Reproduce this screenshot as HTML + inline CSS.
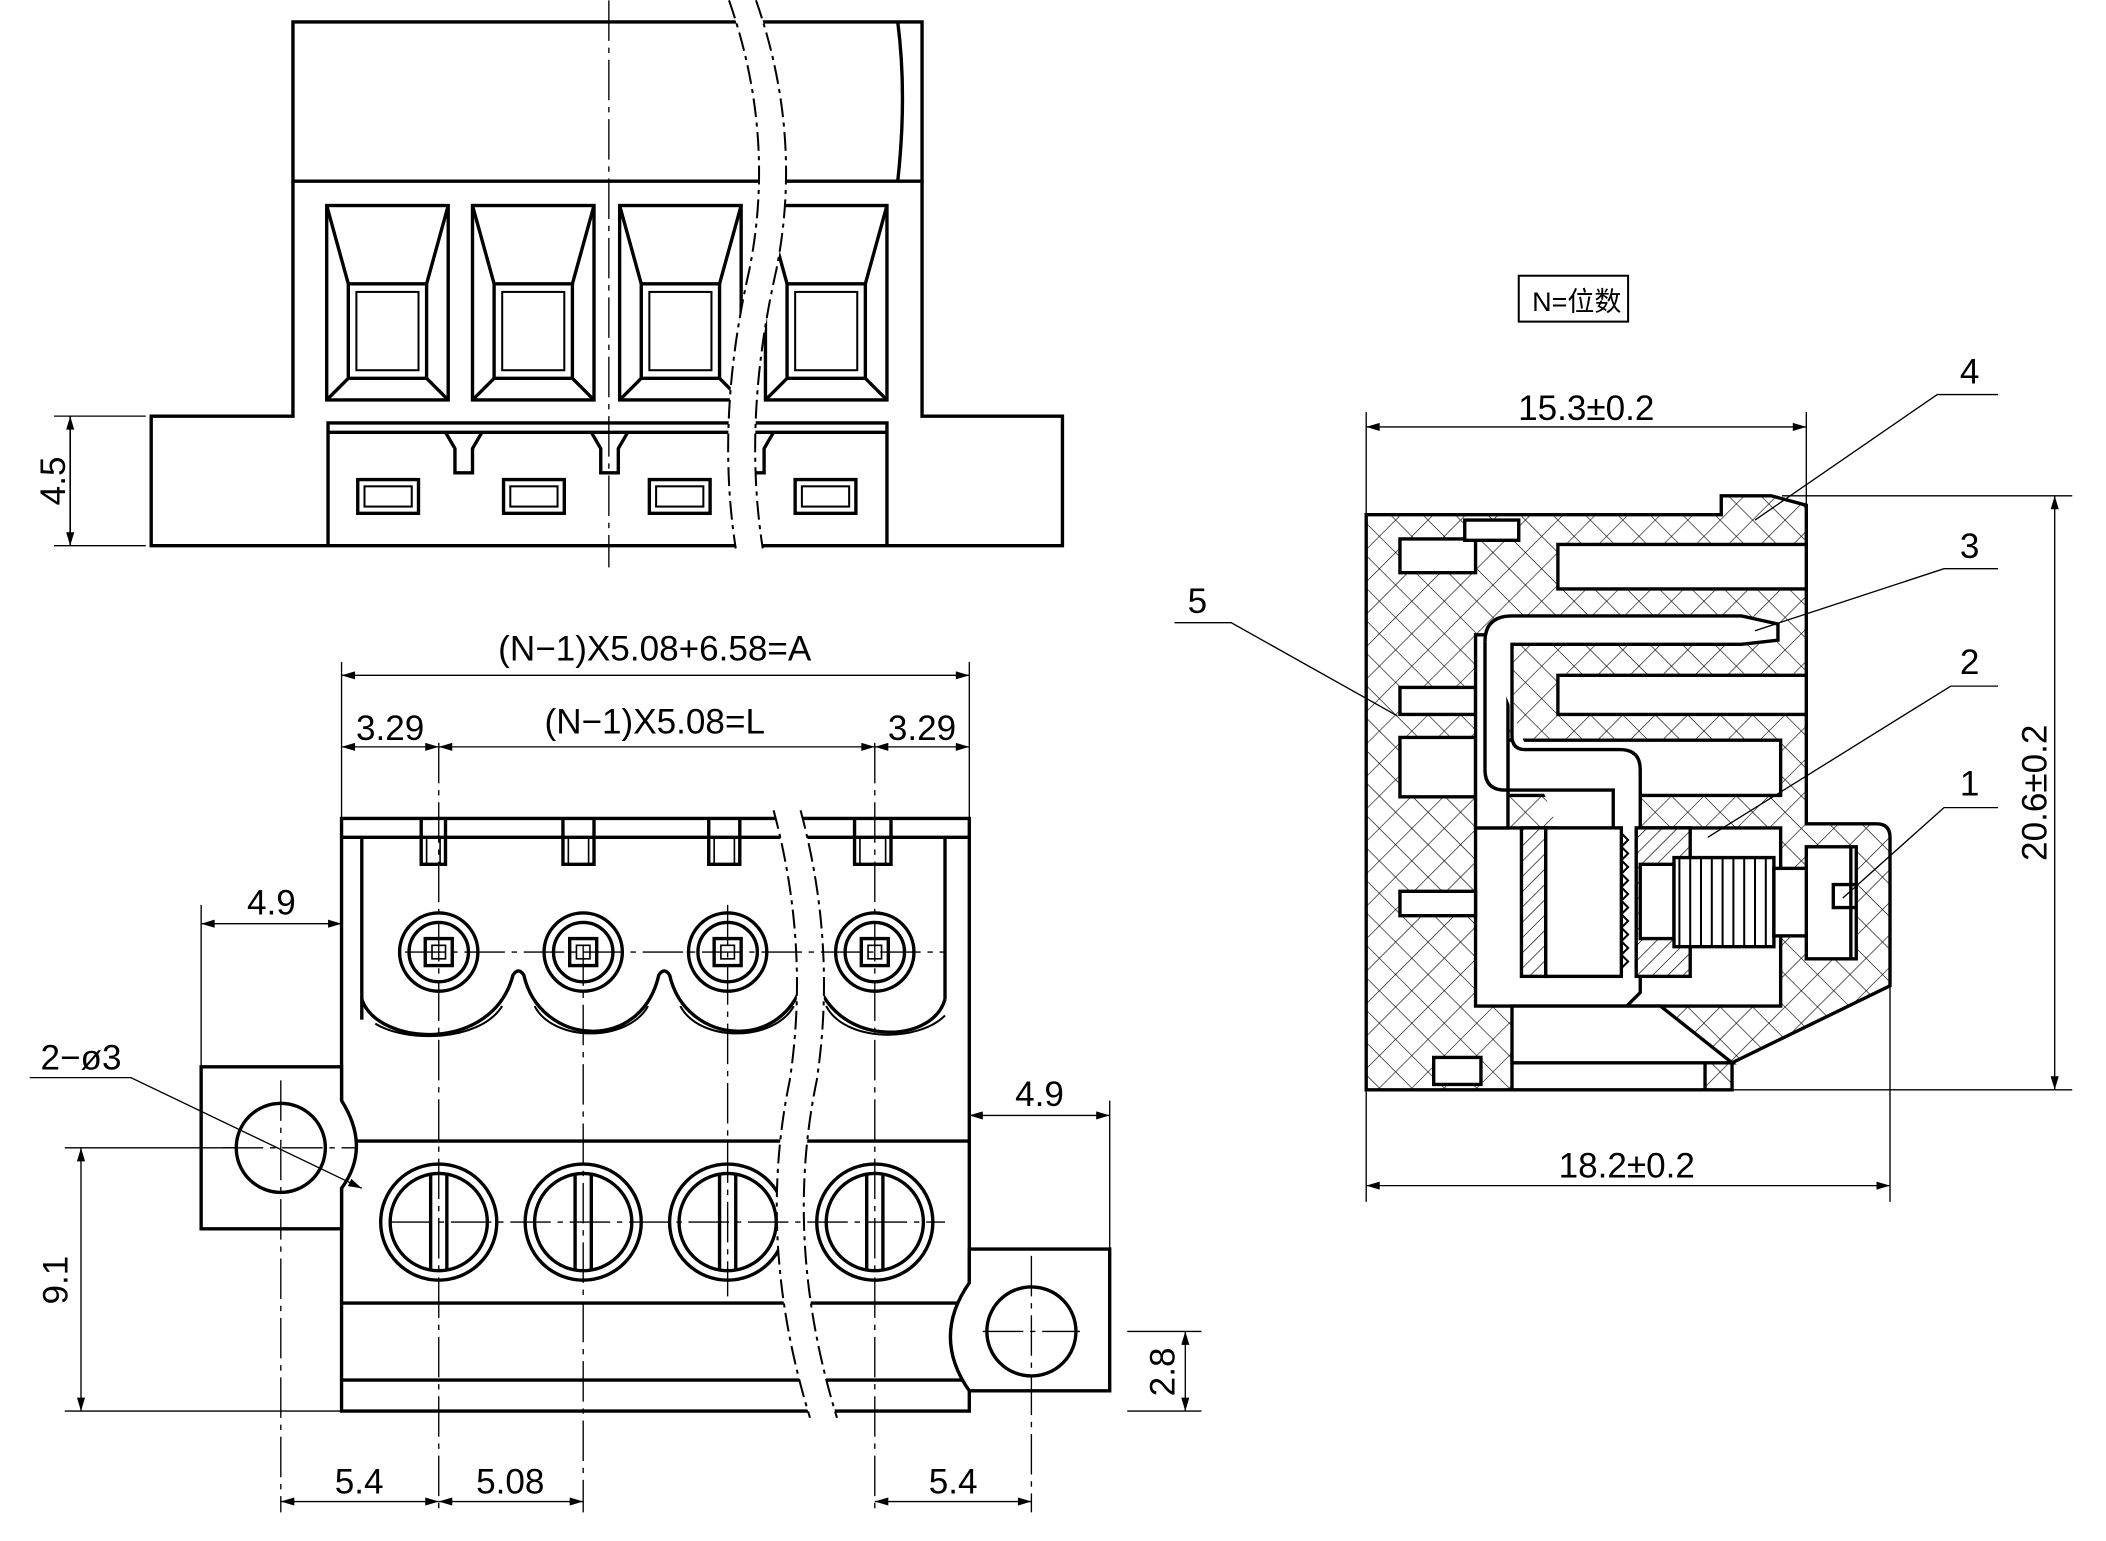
<!DOCTYPE html>
<html><head><meta charset="utf-8"><style>
html,body{margin:0;padding:0;background:#fff}
svg{display:block}
text{font-family:"Liberation Sans","Noto Sans CJK SC",sans-serif;fill:#000}
</style></head><body>
<svg width="2106" height="1541" viewBox="0 0 1560 1141" xmlns="http://www.w3.org/2000/svg">
<defs>
<pattern id="xh" width="17" height="17" patternUnits="userSpaceOnUse" patternTransform="rotate(45)">
<rect width="17" height="17" fill="#fff"/><path d="M0 0V17M0 0H17" stroke="#000" stroke-width="0.9"/></pattern>
<pattern id="dh" width="8" height="8" patternUnits="userSpaceOnUse" patternTransform="rotate(45)">
<rect width="8" height="8" fill="#fff"/><path d="M0 0V8" stroke="#000" stroke-width="1"/></pattern>
<marker id="ar" viewBox="0 0 10 6" refX="10" refY="3" markerWidth="14" markerHeight="6" orient="auto-start-reverse" markerUnits="userSpaceOnUse"><path d="M0 0L10 3L0 6z"/></marker>
</defs>
<g fill="none" stroke="#000" stroke-width="2.5">
<!-- TOP VIEW -->
<path d="M217 16H683V134H217Z"/>
<path d="M665 16Q672 70 665 134"/>
<path d="M217 134V308H112V404H787V308H683V134"/>
<g>
<rect x="242" y="152" width="90" height="144"/><rect x="258" y="210" width="58" height="70"/><path d="M242 152L258 210M332 152L316 210M242 296L258 280M332 296L316 280"/><rect x="264" y="216" width="46" height="58" stroke-width="1.5"/>
<rect x="350" y="152" width="90" height="144"/><rect x="366" y="210" width="58" height="70"/><path d="M350 152L366 210M440 152L424 210M350 296L366 280M440 296L424 280"/><rect x="372" y="216" width="46" height="58" stroke-width="1.5"/>
<rect x="459" y="152" width="90" height="144"/><rect x="475" y="210" width="58" height="70"/><path d="M459 152L475 210M549 152L533 210M459 296L475 280M549 296L533 280"/><rect x="481" y="216" width="46" height="58" stroke-width="1.5"/>
<rect x="567" y="152" width="90" height="144"/><rect x="583" y="210" width="58" height="70"/><path d="M567 152L583 210M657 152L641 210M567 296L583 280M657 296L641 280"/><rect x="589" y="216" width="46" height="58" stroke-width="1.5"/>
</g>
<path d="M243 404V313H657V404"/>
<path d="M243 320H657M330 320L337 332V350H350V332L357 320M438 320L445 332V350H458V332L465 320M546 320L553 332V350H566V332L573 320"/>
<rect x="265" y="355" width="45" height="25"/><rect x="270" y="360" width="35" height="15" stroke-width="1.5"/>
<rect x="373" y="355" width="45" height="25"/><rect x="378" y="360" width="35" height="15" stroke-width="1.5"/>
<rect x="481" y="355" width="45" height="25"/><rect x="486" y="360" width="35" height="15" stroke-width="1.5"/>
<rect x="589" y="355" width="45" height="25"/><rect x="594" y="360" width="35" height="15" stroke-width="1.5"/>
<path d="M540 0Q575 100 555 200Q530 310 545 406L565 406Q550 310 575 200Q595 100 560 0Z" fill="#fff" stroke="none"/>
<path d="M540 0Q575 100 555 200Q530 310 545 406M560 0Q595 100 575 200Q550 310 565 406" stroke-dasharray="14 4 3 4" stroke-width="1.5"/>
<path d="M451 0V420" stroke-width="1" stroke-dasharray="30 5 4 5"/>
<path d="M108 308H40M108 404H40" stroke-width="1"/>
<path d="M52 308V404" stroke-width="1.2" marker-start="url(#ar)" marker-end="url(#ar)"/>

<!-- FRONT VIEW -->
<path d="M253 606H718V1045H253Z"/>
<path d="M253 620H718"/>
<path d="M312 606V640H330V606M417 606V640H440V606M525 606V640H548V606M633 606V640H660V606"/>
<path d="M316 620V640M326 620V640M421 620V640M436 620V640M529 620V640M544 620V640M637 620V640M656 620V640" stroke-width="1.2"/>
<path d="M268 620V755"/>
<path d="M700 620V740"/>
<path d="M268 740C280 775 365 780 380 722Q384 716 388 722C400 775 475 780 488 722Q492 716 496 722C508 775 583 780 596 722Q600 716 604 722C616 775 690 775 700 740"/>
<path d="M278 758C300 772 355 772 372 745M396 745C410 772 465 772 480 745M504 745C518 772 573 772 588 745M612 745C626 772 680 772 700 752" stroke-width="1.5"/>
<g>
<circle cx="325" cy="705" r="29"/><circle cx="325" cy="705" r="22"/><rect x="315" y="695" width="20" height="20"/><rect x="320" y="700" width="10" height="10" stroke-width="1.2"/>
<circle cx="432" cy="705" r="29"/><circle cx="432" cy="705" r="22"/><rect x="422" y="695" width="20" height="20"/><rect x="427" y="700" width="10" height="10" stroke-width="1.2"/>
<circle cx="539" cy="705" r="29"/><circle cx="539" cy="705" r="22"/><rect x="529" y="695" width="20" height="20"/><rect x="534" y="700" width="10" height="10" stroke-width="1.2"/>
<circle cx="648" cy="705" r="29"/><circle cx="648" cy="705" r="22"/><rect x="638" y="695" width="20" height="20"/><rect x="643" y="700" width="10" height="10" stroke-width="1.2"/>
</g>
<path d="M253 845H718M253 965H718M253 1022H718"/>
<g>
<circle cx="325" cy="905" r="43"/><circle cx="325" cy="905" r="36"/><path d="M319 869V941M331 869V941"/>
<circle cx="432" cy="905" r="43"/><circle cx="432" cy="905" r="36"/><path d="M426 869V941M438 869V941"/>
<circle cx="539" cy="905" r="43"/><circle cx="539" cy="905" r="36"/><path d="M533 869V941M545 869V941"/>
<circle cx="648" cy="905" r="43"/><circle cx="648" cy="905" r="36"/><path d="M642 869V941M654 869V941"/>
</g>
<path d="M253 790H149V910H253V880Q275 850 253 815Z" fill="#fff"/>
<circle cx="208" cy="850" r="33"/>
<path d="M718 925H822V1030H718V1030Q690 990 718 950Z" fill="#fff"/>
<circle cx="764" cy="986" r="33"/>
<path d="M573 600Q600 700 585 800Q560 920 600 1050L620 1050Q580 920 605 800Q620 700 593 600Z" fill="#fff" stroke="none"/>
<path d="M573 600Q600 700 585 800Q560 920 600 1050M593 600Q620 700 605 800Q580 920 620 1050" stroke-dasharray="14 4 3 4" stroke-width="1.5"/>
<g stroke-width="1" stroke-dasharray="30 5 4 5">
<path d="M325 550V1120M432 700V1120M539 670V960M648 550V1120M208 800V1120M764 930V1120M300 705H700M290 905H700M165 850H265M728 986H800"/>
</g>
<g stroke-width="1">
<path d="M253 600V490M718 600V490M149 790V670M822 925V815M253 606V545M718 606V545"/>
<path d="M253 500H718" marker-start="url(#ar)" marker-end="url(#ar)"/>
<path d="M325 553H648" marker-start="url(#ar)" marker-end="url(#ar)"/>
<path d="M253 553H325" marker-start="url(#ar)" marker-end="url(#ar)"/>
<path d="M648 553H718" marker-start="url(#ar)" marker-end="url(#ar)"/>
<path d="M149 684H253" marker-start="url(#ar)" marker-end="url(#ar)"/>
<path d="M718 826H822" marker-start="url(#ar)" marker-end="url(#ar)"/>
<path d="M48 850H175M48 1045H253M835 986H890M835 1045H890"/>
<path d="M60 850V1045" marker-start="url(#ar)" marker-end="url(#ar)"/>
<path d="M878 986V1045" marker-start="url(#ar)" marker-end="url(#ar)"/>
<path d="M208 1112H325" marker-start="url(#ar)" marker-end="url(#ar)"/>
<path d="M325 1112H432" marker-start="url(#ar)" marker-end="url(#ar)"/>
<path d="M648 1112H764" marker-start="url(#ar)" marker-end="url(#ar)"/>
<path d="M22 798H97L268 880" marker-end="url(#ar)"/>
</g>

<!-- SIDE VIEW -->
<path d="M1012 381H1275V367H1312L1338 374V610H1390Q1400 610 1400 620V730L1283 787V807H1012Z" fill="url(#xh)"/>
<g fill="#fff">
<path d="M1154 403H1338V436H1154Z"/>
<path d="M1154 500H1338V529H1154Z"/>
<path d="M1117 548H1319V589H1117Z"/>
<path d="M1093 613H1319V745H1093Z"/>
<path d="M1120 781H1263V807H1120Z"/>
<path d="M1037 399H1093V424H1037Z"/>
<path d="M1037 509H1093V529H1037Z"/>
<path d="M1037 546H1093V590H1037Z"/>
<path d="M1037 660H1093V678H1037Z"/>
<path d="M1062 783H1097V803H1062Z"/>
<path d="M1085 385H1125V400H1085Z"/>
<path d="M1093 470H1117V613H1093Z"/>
<path d="M1120 745H1230L1283 787H1120Z"/>
</g>
<path d="M1100 475Q1100 456 1120 456H1290L1317 462V474L1290 477H1120V545Q1120 555 1130 555H1200Q1215 555 1215 570V735L1205 745" fill="#fff"/>
<path d="M1100 475V570Q1100 585 1115 585H1195V720"/>
<rect x="1127" y="613" width="18" height="110" fill="url(#dh)"/>
<rect x="1145" y="613" width="56" height="110" fill="#fff"/>
<path d="M1201 617L1206 622L1201 627L1206 632L1201 637L1206 642L1201 647L1206 652L1201 657L1206 662L1201 667L1206 672L1201 677L1206 682L1201 687L1206 692L1201 697L1206 702L1201 707L1206 712L1201 717" stroke-width="1.5"/>
<rect x="1212" y="613" width="40" height="110" fill="url(#dh)"/>
<rect x="1215" y="640" width="25" height="55" fill="#fff"/>
<rect x="1240" y="635" width="74" height="66" fill="#fff"/>
<path d="M1244 635V701M1252 635V701M1260 635V701M1268 635V701M1276 635V701M1284 635V701M1292 635V701M1300 635V701M1308 635V701" stroke-width="1.5"/>
<rect x="1314" y="643" width="26" height="50" fill="#fff"/>
<rect x="1338" y="627" width="37" height="83" fill="#fff"/>
<path d="M1371 627V710M1375 655H1358V672H1375"/>
<g stroke-width="1">
<path d="M1012 381V305M1338 374V305M1012 807V890M1400 620V890M1320 367H1535M1283 807H1535"/>
<path d="M1012 316H1338" marker-start="url(#ar)" marker-end="url(#ar)"/>
<path d="M1012 878H1400" marker-start="url(#ar)" marker-end="url(#ar)"/>
<path d="M1522 367V807" marker-start="url(#ar)" marker-end="url(#ar)"/>
<path d="M1480 292H1435L1300 385M1480 421H1440L1300 467M1480 508H1445L1265 620M1480 598H1440L1365 665M870 461H912L1035 530"/>
</g>
<rect x="1125" y="204" width="81" height="34" stroke-width="1.5"/>
</g>
<g font-size="26">
<text x="1168" y="230" font-size="20" text-anchor="middle">N=位数</text>
<text x="1175" y="311" text-anchor="middle">15.3±0.2</text>
<text x="1205" y="872" text-anchor="middle">18.2±0.2</text>
<text transform="translate(1516,587) rotate(-90)" text-anchor="middle">20.6±0.2</text>
<text x="1459" y="284" text-anchor="middle">4</text>
<text x="1459" y="413" text-anchor="middle">3</text>
<text x="1459" y="499" text-anchor="middle">2</text>
<text x="1459" y="589" text-anchor="middle">1</text>
<text x="887" y="454" text-anchor="middle">5</text>
<text x="485" y="489" text-anchor="middle">(N−1)X5.08+6.58=A</text>
<text x="485" y="543" text-anchor="middle">(N−1)X5.08=L</text>
<text x="289" y="548" text-anchor="middle">3.29</text>
<text x="683" y="548" text-anchor="middle">3.29</text>
<text x="201" y="677" text-anchor="middle">4.9</text>
<text x="770" y="819" text-anchor="middle">4.9</text>
<text x="60" y="792" text-anchor="middle">2−ø3</text>
<text transform="translate(50,948) rotate(-90)" text-anchor="middle">9.1</text>
<text transform="translate(870,1016) rotate(-90)" text-anchor="middle">2.8</text>
<text transform="translate(48,356) rotate(-90)" text-anchor="middle">4.5</text>
<text x="266" y="1106" text-anchor="middle">5.4</text>
<text x="378" y="1106" text-anchor="middle">5.08</text>
<text x="706" y="1106" text-anchor="middle">5.4</text>
</g>
</svg>
</body></html>
